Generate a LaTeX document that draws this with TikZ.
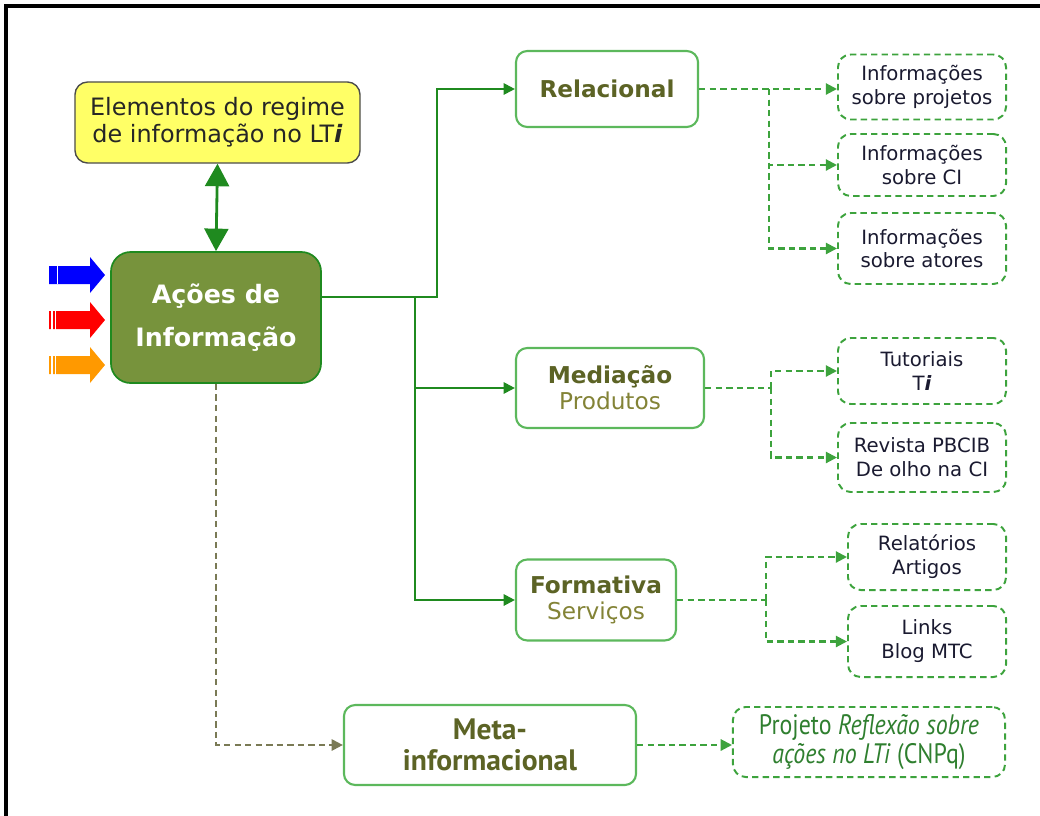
\documentclass[tikz,border=0pt]{standalone}
\usepackage{fontspec}
\setmainfont{DejaVu Sans}
\newfontfamily\narrowfont[FakeStretch=0.85]{PT Sans}
\newfontfamily\metafont{PT Sans}
\usetikzlibrary{arrows.meta}

\definecolor{linkgreen}{HTML}{1F8A1F}
\definecolor{boxgreen}{HTML}{5CB85C}
\definecolor{dashgreen}{HTML}{3DA33D}
\definecolor{mainfill}{HTML}{77933C}
\definecolor{olivetext}{HTML}{5C6325}
\definecolor{olivelight}{HTML}{838336}
\definecolor{metagray}{HTML}{7A7A55}
\definecolor{notefill}{HTML}{FFFF66}
\definecolor{inktext}{HTML}{1A1A30}
\definecolor{projtext}{HTML}{2F7F2F}
\definecolor{arroworange}{HTML}{FF9900}

\tikzset{
  catbox/.style={draw=boxgreen,line width=1.5pt,rounded corners=8pt,fill=white,align=center,inner sep=0pt,font=\fontsize{16.5}{18.5}\selectfont},
  itembox/.style={draw=dashgreen,line width=1.4pt,dash pattern=on 4.5pt off 3pt,rounded corners=9pt,align=center,inner sep=0pt,text=inktext,font=\fontsize{14}{17}\selectfont},
  link/.style={draw=linkgreen,line width=1.5pt},
  dlink/.style={draw=dashgreen,line width=1.5pt,dash pattern=on 4.5pt off 3pt},
  tip/.style={-{Triangle[length=8pt,width=8pt]}},
}

\begin{document}
\begin{tikzpicture}[x=0.025cm,y=-0.025cm]
\useasboundingbox (0,0) rectangle (1040,816);
% frame
\draw[line width=2.2pt] (6,816) -- (6,6) -- (1040,6);

% central blocks
\node[draw=black!70,fill=notefill,line width=1pt,rounded corners=9pt,minimum width=7.125cm,minimum height=2.025cm,align=center,text=black!85,font=\fontsize{17}{19.5}\selectfont] (regime) at (217.5,122.5) {Elementos do regime\\de informação no LT\textit{\textbf{i}}};
\node[draw=linkgreen,fill=mainfill,line width=1.2pt,rounded corners=14pt,minimum width=5.25cm,minimum height=3.275cm,align=center,text=white,font=\fontsize{18}{31}\selectfont\bfseries] (acoes) at (216,317.5) {Ações de\\Informação};

% input arrows
\foreach \c/\yy in {blue/275,red/320,arroworange/365} {
  \fill[\c] (49,\yy-9) -- (90,\yy-9) -- (90,\yy-18) -- (105,\yy) -- (90,\yy+18) -- (90,\yy+9) -- (49,\yy+9) -- cycle;
}
\draw[white,line width=0.6pt] (57,266) -- (57,284);
\foreach \yy in {320,365} {
  \draw[white,line width=0.8pt] (52,\yy-10) -- (52,\yy+10);
  \draw[white,line width=0.8pt] (55.5,\yy-10) -- (55.5,\yy+10);
}

% categories
\node[catbox,minimum width=4.55cm,minimum height=1.9cm,text=olivetext] (rel) at (607,89) {\bfseries Relacional};
\node[catbox,minimum width=4.7cm,minimum height=2cm] (med) at (610,388) {\textcolor{olivetext}{\bfseries Mediação}\\\textcolor{olivelight}{Produtos}};
\node[catbox,minimum width=4cm,minimum height=2.025cm] (form) at (596,600) {\textcolor{olivetext}{\bfseries Formativa}\\\textcolor{olivelight}{Serviços}};
\node[catbox,minimum width=7.3cm,minimum height=2cm,text=olivetext,font=\metafont\fontsize{21}{22}\selectfont\bfseries] (meta) at (490,745) {Meta-\\informacional};

% items
\node[itembox,minimum width=4.2cm,minimum height=1.625cm] (iproj) at (922,87) {Informações\\sobre projetos};
\node[itembox,minimum width=4.2cm,minimum height=1.55cm] (ici) at (922,165) {Informações\\sobre CI};
\node[itembox,minimum width=4.2cm,minimum height=1.775cm] (iatores) at (922,248.5) {Informações\\sobre atores};
\node[itembox,minimum width=4.2cm,minimum height=1.65cm] (tut) at (922,371) {Tutoriais\\T\textit{\textbf{i}}};
\node[itembox,minimum width=4.2cm,minimum height=1.725cm] (rev) at (922,457.5) {Revista PBCIB\\De olho na CI};
\node[itembox,minimum width=3.95cm,minimum height=1.65cm] (relat) at (927,557) {Relatórios\\Artigos};
\node[itembox,minimum width=3.95cm,minimum height=1.775cm] (links) at (927,641.5) {Links\\Blog MTC};
\node[itembox,minimum width=6.8cm,minimum height=1.75cm,text=projtext,font=\narrowfont\fontsize{20}{21}\selectfont] (proj) at (869,742) {Projeto \textit{Reflexão sobre}\\\textit{ações no LTi} (CNPq)};

% solid links
\draw[line width=2pt,linkgreen,{Triangle[length=16pt,width=17pt]}-{Triangle[length=16pt,width=17pt]}] (regime.south) -- (acoes.north);
\coordinate (fork) at (437,297);
\coordinate (split) at (415,297);
\draw[link,tip] (acoes.east |- fork) -- (fork) |- (rel.west);
\draw[link,tip] (split) |- (form.west);
\draw[link,tip] (split |- med.west) -- (med.west);

% dashed links
\coordinate (rb) at (769,89);
\draw[dlink,tip] (rel.east) -- (iproj.west |- rel.east);
\draw[dlink,tip] (rb) |- (ici.west);
\draw[dlink,tip] (rb) |- (iatores.west);
\coordinate (mb) at (771,388);
\draw[dlink] (med.east) -- (mb);
\draw[dlink,tip] (mb) |- (tut.west);
\draw[dlink,tip] (mb) |- (rev.west);
\coordinate (fb) at (766,600);
\draw[dlink] (form.east) -- (fb);
\draw[dlink,tip] (fb) |- (relat.west);
\draw[dlink,tip] (fb) |- (links.west);
\draw[dlink,draw=metagray,tip] (acoes.south) |- (meta.west);
\draw[dlink,tip] (meta.east) -- (proj.west |- meta.east);
\end{tikzpicture}
\end{document}
